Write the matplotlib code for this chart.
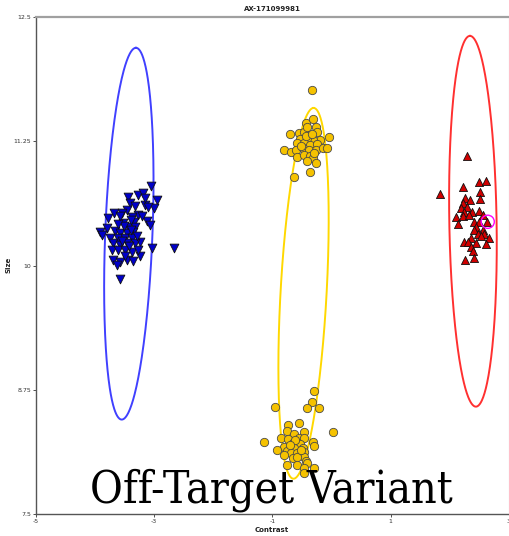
import matplotlib
matplotlib.use("Agg")
import matplotlib.pyplot as plt
import numpy as np

# valeurs (Contrast, Size)
bleu_x = [-3.05, -3.44, -3.27, -3.19, -2.95, -3.41, -3.32, -3.15, -3.46, -3.68, -3.54, -3.00,
          -3.10, -3.27, -3.37, -3.78, -3.34, -3.12, -3.07, -3.53, -3.44, -3.32, -3.80, -3.92,
          -3.88, -3.66, -3.58, -3.46, -3.36, -3.75, -3.61, -3.49, -3.37, -3.24, -3.69, -3.58,
          -3.46, -3.32, -3.03, -2.66, -3.71, -3.61, -3.49, -3.37, -3.24, -3.69, -3.58, -3.46,
          -3.36, -3.63, -3.58, -3.52, -3.40, -3.55, -3.42, -3.30, -3.62, -3.40, -3.50, -3.28,
          -3.20, -3.58, -3.15]
bleu_y = [10.80, 10.69, 10.71, 10.73, 10.66, 10.63, 10.60, 10.61, 10.56, 10.53, 10.53, 10.58,
          10.59, 10.51, 10.49, 10.48, 10.44, 10.45, 10.41, 10.43, 10.39, 10.39, 10.38, 10.34,
          10.31, 10.35, 10.33, 10.33, 10.34, 10.28, 10.28, 10.28, 10.28, 10.24, 10.23, 10.21,
          10.23, 10.23, 10.18, 10.18, 10.16, 10.16, 10.16, 10.14, 10.10, 10.06, 10.04, 10.06,
          10.05, 10.01, 9.86, 10.40, 10.36, 10.25, 10.20, 10.30, 10.42, 10.46, 10.10, 10.16,
          10.50, 10.50, 10.68]

jaune_x = [-0.34, -0.44, -0.31, -0.71, -0.56, -0.47, -0.41, -0.27, -0.24, -0.05, -0.19, -0.31,
           -0.41, -0.53, -0.58, -0.47, -0.36, -0.24, -0.80, -0.69, -0.61, -0.49, -0.39, -0.27,
           -0.15, -0.07, -0.58, -0.47, -0.36, -0.31, -0.27, -0.37, -0.64, -0.44, -0.33, -0.52,
           -0.30, -0.42,
           -0.29, -0.34, -0.41, -0.22, -0.95, -0.73, -0.56, -0.76, 0.03, -0.64, -0.47, -0.85,
           -0.73, -0.56, -0.46, -1.14, -0.66, -0.53, -0.32, -0.29, -0.80, -0.63, -0.49, -0.92,
           -0.75, -0.69, -0.58, -0.46, -0.81, -0.47, -0.66, -0.58, -0.44, -0.41, -0.76, -0.58,
           -0.47, -0.29, -0.47, -0.62, -0.52, -0.70]
jaune_y = [11.77, 11.43, 11.47, 11.32, 11.33, 11.34, 11.39, 11.39, 11.34, 11.29, 11.26, 11.26,
           11.28, 11.27, 11.23, 11.23, 11.21, 11.22, 11.16, 11.14, 11.16, 11.18, 11.16, 11.16,
           11.18, 11.18, 11.09, 11.11, 11.10, 11.08, 11.03, 10.94, 10.89, 11.30, 11.32, 11.20,
           11.13, 11.05,
           8.74, 8.63, 8.57, 8.57, 8.58, 8.40, 8.42, 8.34, 8.32, 8.30, 8.32, 8.26,
           8.25, 8.26, 8.26, 8.22, 8.21, 8.20, 8.22, 8.18, 8.17, 8.16, 8.16, 8.14,
           8.13, 8.11, 8.11, 8.12, 8.09, 8.07, 8.06, 8.07, 8.03, 8.01, 7.99, 7.99,
           7.96, 7.96, 7.91, 8.24, 8.14, 8.19]

rouge_x = [2.29, 1.83, 2.22, 2.49, 2.61, 2.51, 2.51, 2.25, 2.34, 2.22, 2.19, 2.29, 2.24, 2.37,
           2.49, 2.10, 2.22, 2.32, 2.56, 2.14, 2.41, 2.49, 2.63, 2.44, 2.41, 2.56, 2.47, 2.58,
           2.36, 2.53, 2.66, 2.24, 2.31, 2.44, 2.61, 2.36, 2.39, 2.25, 2.41]
rouge_y = [11.10, 10.72, 10.79, 10.84, 10.85, 10.74, 10.67, 10.68, 10.66, 10.63, 10.58, 10.59,
           10.54, 10.54, 10.55, 10.49, 10.50, 10.51, 10.51, 10.42, 10.44, 10.44, 10.44, 10.39,
           10.36, 10.36, 10.32, 10.32, 10.28, 10.30, 10.28, 10.24, 10.24, 10.23, 10.22, 10.19,
           10.15, 10.06, 10.08]

# échantillon mis en évidence
point_x = [2.64]
point_y = [10.44]

# ellipses : centre, demi-axe principal (dx, dy), demi-largeur
ellipses = {
    "bleu": (-3.43, 10.32, 0.12, 1.87, 0.40, "#4040ff"),
    "jaune": (-0.475, 9.72, 0.17, 1.865, 0.39, "#ffd800"),
    "rouge": (2.39, 10.445, -0.05, 1.865, 0.40, "#ff3030"),
}

x_ticks = [-5, -3, -1, 1, 3]
y_ticks = [7.5, 8.75, 10, 11.25, 12.5]

fig = plt.figure(figsize=(5.10, 5.36), dpi=100)
ax = fig.add_axes([36 / 510, 1 - 514 / 536, 473 / 510, 497 / 536])

t = np.linspace(0, 2 * np.pi, 400)
for nom, (cx, cy, mx, my, b, coul) in ellipses.items():
    ax.plot(cx + mx * np.cos(t) + b * np.sin(t), cy + my * np.cos(t),
            color=coul, lw=1.4, zorder=1)

ax.scatter(bleu_x, bleu_y, marker="v", s=40, c="#0000c8", edgecolors="#101010",
           linewidths=0.6, zorder=3)
ax.scatter(jaune_x, jaune_y, marker="o", s=36, c="#f5c200", edgecolors="#4a4a4a",
           linewidths=0.6, zorder=3)
ax.scatter(rouge_x, rouge_y, marker="^", s=34, c="#d00000", edgecolors="#101010",
           linewidths=0.6, zorder=3)
ax.scatter(point_x, point_y, marker="o", s=90, facecolors="none", edgecolors="#ff00ff",
           linewidths=1.0, zorder=4)

ax.set_xlim(-5, 3)
ax.set_ylim(7.5, 12.5)
ax.set_xticks(x_ticks)
ax.set_xticklabels([str(v) for v in x_ticks])
ax.set_yticks(y_ticks)
ax.set_yticklabels(["7.5", "8.75", "10", "11.25", "12.5"])
ax.tick_params(labelsize=4.5, length=2, width=0.6, colors="#333333", pad=1.5)

for s in ["left", "bottom"]:
    ax.spines[s].set_color("#555555")
    ax.spines[s].set_linewidth(1.0)
ax.spines["top"].set_color("#a0a0a0")
ax.spines["top"].set_linewidth(1.6)
ax.spines["right"].set_color("#c8c8c8")
ax.spines["right"].set_linewidth(0.8)

fig.text(272 / 510, 1 - 9 / 536, "AX-171099981", ha="center", va="center",
         fontsize=5, fontweight="bold", color="#222222")
fig.text(272 / 510, 1 - 530 / 536, "Contrast", ha="center", va="center",
         fontsize=5, fontweight="bold", color="#222222")
fig.text(9 / 510, 1 - 265 / 536, "Size", ha="center", va="center", rotation=90,
         fontsize=5, fontweight="bold", color="#222222")

fig.text(271 / 510, 1 - 503 / 536, "Off-Target Variant", ha="center", va="baseline",
         fontsize=32, family="DejaVu Serif", fontstretch="condensed", color="black")

fig.savefig("out.png", dpi=100)
